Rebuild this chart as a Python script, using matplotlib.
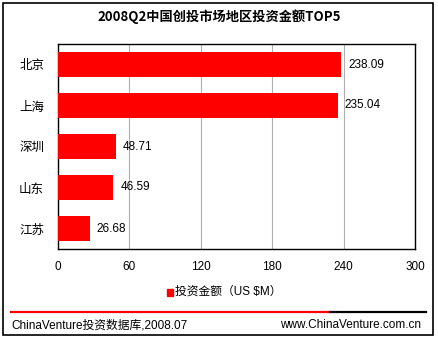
import matplotlib
matplotlib.use('Agg')
import matplotlib.pyplot as plt
from matplotlib.patches import Rectangle
from matplotlib.lines import Line2D

plt.rcParams['font.family'] = ['Liberation Sans', 'Noto Sans CJK SC', 'DejaVu Sans']

regions = ['北京', '上海', '深圳', '山东', '江苏']
amounts = [238.09, 235.04, 48.71, 46.59, 26.68]
xticks = [0, 60, 120, 180, 240, 300]

W, H = 438, 338
fig = plt.figure(figsize=(W / 100, H / 100), dpi=100)
ax = fig.add_axes([58 / W, (H - 249) / H, (415 - 58) / W, (249 - 44) / H])

ypos = list(range(len(regions)))
ax.barh(ypos, amounts, height=0.6, color='#ff0000', zorder=3)
for y, v in zip(ypos, amounts):
    ax.text(v + 6, y, '%.2f' % v, va='center', ha='left', fontsize=8.5)

ax.set_xlim(0, 300)
ax.set_ylim(len(regions) - 0.5, -0.5)
ax.set_xticks(xticks)
ax.set_xticklabels([str(t) for t in xticks], fontsize=8.5)
ax.set_yticks(ypos)
ax.set_yticklabels(regions, fontsize=9, family=['Noto Sans CJK SC'])
ax.tick_params(length=0)
ax.tick_params(axis='x', pad=9)
ax.tick_params(axis='y', pad=10)
ax.grid(axis='x', color='#b0b0b0', linewidth=0.8, zorder=0)
for s in ax.spines.values():
    s.set_linewidth(1)
    s.set_color('black')

fig.text(0.5, 1 - 17 / H, '2008Q2中国创投市场地区投资金额TOP5', ha='center', va='center',
         fontsize=9.5, fontweight='bold', family=['Noto Sans CJK SC'])

fig.patches.append(Rectangle((167 / W, 1 - 296 / H), 6 / W, 7 / H, transform=fig.transFigure,
                             color='#ff0000'))
fig.text(175 / W, 1 - 292 / H, '投资金额（US $M）', ha='left', va='center', fontsize=8.5)

fig.lines.append(Line2D([11 / W, 330 / W], [1 - 312 / H] * 2, transform=fig.transFigure,
                        color='#ff0000', linewidth=1.6))
fig.lines.append(Line2D([330 / W, 426 / W], [1 - 312 / H] * 2, transform=fig.transFigure,
                        color='black', linewidth=1.6))
fig.text(11 / W, 1 - 325 / H, 'ChinaVenture投资数据库,2008.07', ha='left', va='center', fontsize=8.5)
fig.text(421 / W, 1 - 325 / H, 'www.ChinaVenture.com.cn', ha='right', va='center', fontsize=8.5)

fig.patches.append(Rectangle((3 / W, 3 / H), 430 / W, 332 / H, transform=fig.transFigure,
                             fill=False, edgecolor='black', linewidth=1.2))

fig.savefig('out.png', dpi=100)
